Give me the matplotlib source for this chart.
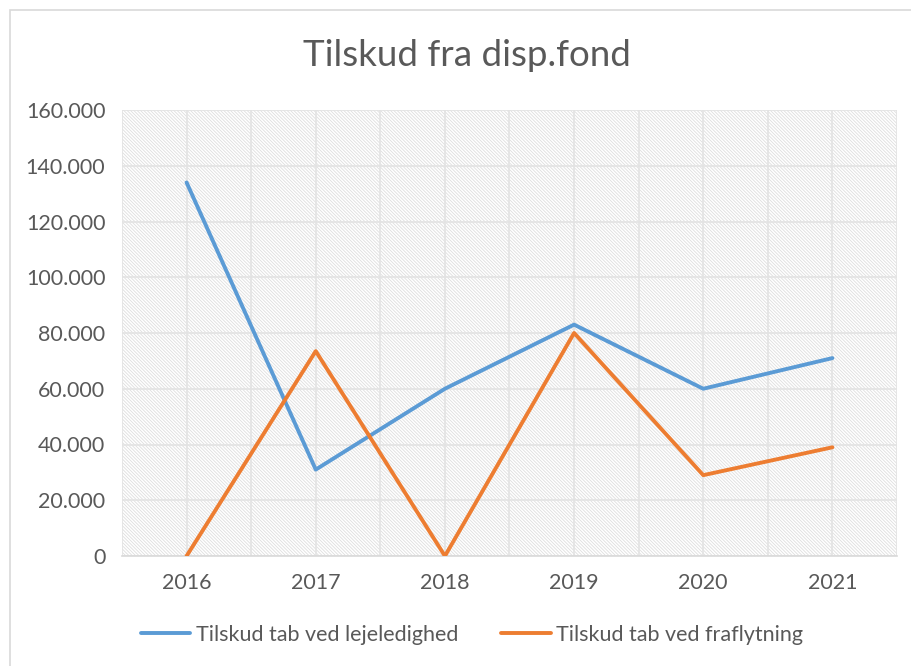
import matplotlib
matplotlib.use("Agg")
import matplotlib.pyplot as plt
from matplotlib.patches import Rectangle
from matplotlib.ticker import FuncFormatter, MultipleLocator

years = ["2016", "2017", "2018", "2019", "2020", "2021"]
lejeledighed = [134000, 31000, 60000, 83000, 60000, 71000]
fraflytning = [0, 73500, 0, 80000, 29000, 39000]
series_names = ["Tilskud tab ved lejeledighed", "Tilskud tab ved fraflytning"]
title = "Tilskud fra disp.fond"

plt.rcParams['font.family'] = ['Lato', 'DejaVu Sans']
plt.rcParams['hatch.color'] = '#dedede'
plt.rcParams['hatch.linewidth'] = 0.6

fig = plt.figure(figsize=(9.12, 6.66), dpi=100)
fig.patches.append(Rectangle((10/912, -0.01), 1.0, 1 - 10/666 + 0.01, transform=fig.transFigure,
                             fill=False, edgecolor='#d9d9d9', linewidth=1.2))
ax = fig.add_axes([122/912, 110/666, 775/912, 446/666])
ax.set_facecolor('white')
ax.add_patch(Rectangle((0, 0), 1, 1, transform=ax.transAxes, facecolor='white',
                       hatch='\\' * 10, edgecolor='#dedede', linewidth=0, zorder=0))

x = list(range(len(years)))
ax.plot(x, lejeledighed, color='#5b9bd5', linewidth=2.8, label=series_names[0], zorder=3,
        solid_capstyle='round')
ax.plot(x, fraflytning, color='#ed7d31', linewidth=2.8, label=series_names[1], zorder=3,
        solid_capstyle='round')

ax.set_xlim(-0.5, len(years) - 0.5)
ax.set_ylim(0, 160000)
ax.set_xticks(x)
ax.set_xticklabels(years)
ax.yaxis.set_major_locator(MultipleLocator(20000))
ax.yaxis.set_major_formatter(FuncFormatter(lambda v, p: f"{int(v):,}".replace(",", ".")))
ax.xaxis.set_minor_locator(MultipleLocator(0.5))
ax.grid(True, which='major', color='#e3e3e3', linewidth=1.2, zorder=1)
ax.grid(True, which='minor', axis='x', color='#e3e3e3', linewidth=1.2, zorder=1)
ax.set_axisbelow(True)
for s in ['top', 'right', 'left']:
    ax.spines[s].set_visible(False)
ax.spines['bottom'].set_color('#d9d9d9')
ax.spines['bottom'].set_linewidth(1.2)
ax.tick_params(axis='both', which='both', length=0, labelsize=15.5, labelcolor='#595959')
ax.tick_params(axis='x', pad=12)
ax.tick_params(axis='y', pad=12)

fig.text(467/912, 1 - 55/666, title, ha='center', va='center', fontsize=26.5, color='#595959')
fig.legend(loc='center', bbox_to_anchor=(472/912, 1 - 635/666), ncol=2, frameon=False,
           fontsize=15.5, labelcolor='#595959', handlelength=2.3, columnspacing=2.0, handletextpad=0.25)

fig.savefig("out.png", dpi=100)
